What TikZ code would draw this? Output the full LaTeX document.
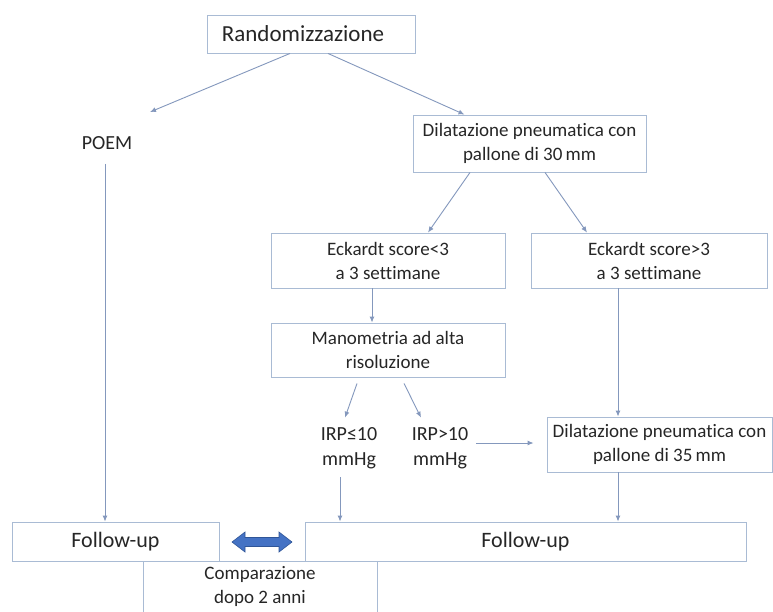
\documentclass[tikz,border=0pt]{standalone}
\usepackage{fontspec}
\setmainfont{Carlito}[Ligatures={NoCommon}]
\usetikzlibrary{arrows.meta}
\definecolor{boxc}{HTML}{A9BBD4}
\definecolor{arrc}{HTML}{8498BD}
\definecolor{txt}{HTML}{262626}
\definecolor{dbl}{HTML}{4472C4}
\definecolor{dbld}{HTML}{2F5597}
\begin{document}
\begin{tikzpicture}[x=1pt,y=-1pt,
  box/.style={draw=boxc,line width=0.9pt,fill=white,inner sep=0pt,align=center,text=txt},
  lbl/.style={inner sep=0pt,align=center,text=txt},
  arr/.style={draw=arrc,line width=0.9pt,-{Latex[length=6pt,width=5pt]}},
  fmid/.style={font=\fontsize{19}{24}\selectfont},
  fbig/.style={font=\fontsize{23}{27}\selectfont},
  ffu/.style={font=\fontsize{22}{26}\selectfont},
]
\fill[white] (0,0) rectangle (773,611);
\useasboundingbox (0,0) rectangle (773,611);

% boxes
\node[box,fbig,minimum width=208pt,minimum height=38pt] (rand) at (311,34) {Randomizzazione\hspace*{16pt}};
\node[lbl,font=\fontsize{20}{24}\selectfont] (poem) at (107,143) {POEM};
\node[box,fmid,minimum width=233pt,minimum height=57pt] (dil30) at (529.5,143.5) {Dilatazione pneumatica con\\pallone di 30\,mm};
\node[box,fmid,minimum width=234pt,minimum height=55pt] (eck1) at (388,260.5) {Eckardt score<3\\a 3 settimane};
\node[box,fmid,minimum width=236pt,minimum height=55pt] (eck2) at (649,260.5) {Eckardt score>3\\a 3 settimane};
\node[box,fmid,minimum width=234pt,minimum height=54pt] (mano) at (388,350) {Manometria ad alta\\risoluzione};
\node[lbl,font=\fontsize{20}{25}\selectfont] (irp1) at (349,448.5) {IRP≤10\\mmHg};
\node[lbl,font=\fontsize{20}{25}\selectfont] (irp2) at (440,448.5) {IRP>10\\mmHg};
\node[box,fmid,minimum width=225pt,minimum height=55pt] (dil35) at (659.5,444.5) {Dilatazione pneumatica con\\pallone di 35\,mm};
\node[box,fmid,minimum width=234pt,minimum height=51pt] (comp) at (260,586.5) {Comparazione\\dopo 2 anni};
\node[box,ffu,minimum width=207pt,minimum height=39pt] (fu1) at (115.5,541.5) {Follow-up};
\node[box,ffu,minimum width=441pt,minimum height=39pt] (fu2) at (525.5,541.5) {Follow-up};

% connectors
\coordinate (pin) at (150,112);
\draw[arr] ([xshift=-21pt]rand.south) -- (pin);
\draw[arr] ([xshift=17pt]rand.south) -- ([xshift=-65pt]dil30.north);
\draw[arr] ([xshift=-2pt,yshift=-14pt]poem.south) -- ([xshift=-10.5pt]fu1.north);
\draw[arr] ([xshift=-59.5pt]dil30.south) -- ([xshift=40pt]eck1.north);
\draw[arr] ([xshift=15.5pt]dil30.south) -- ([xshift=-62pt]eck2.north);
\draw[arr] ([xshift=-16pt]eck1.south) -- ([xshift=-16pt]mano.north);
\draw[arr] ([xshift=-31pt,yshift=-6pt]mano.south) -- ([xshift=-4pt,yshift=10pt]irp1.north);
\draw[arr] ([xshift=16pt,yshift=-6pt]mano.south) -- ([xshift=-19pt,yshift=10pt]irp2.north);
\draw[arr] ([xshift=8pt,yshift=5.5pt]irp2.east) -- ([xshift=-13pt,yshift=1.5pt]dil35.west);
\draw[arr] ([xshift=-31pt]eck2.south) -- ([xshift=-41.5pt]dil35.north);
\draw[arr] ([xshift=-9pt,yshift=-8pt]irp1.south) -- ([xshift=-185.5pt]fu2.north);
\draw[arr] ([xshift=-41.5pt]dil35.south) -- ([xshift=92.5pt]fu2.north);

% double arrow between follow-up boxes
\coordinate (dbc) at (262,542);
\filldraw[fill=dbl,draw=dbld,line width=0.6pt]
  ([xshift=-30pt]dbc) -- ([xshift=-17pt,yshift=10pt]dbc) -- ([xshift=-17pt,yshift=4.5pt]dbc)
  -- ([xshift=17pt,yshift=4.5pt]dbc) -- ([xshift=17pt,yshift=10pt]dbc) -- ([xshift=30pt]dbc)
  -- ([xshift=17pt,yshift=-10pt]dbc) -- ([xshift=17pt,yshift=-4.5pt]dbc)
  -- ([xshift=-17pt,yshift=-4.5pt]dbc) -- ([xshift=-17pt,yshift=-10pt]dbc) -- cycle;
\end{tikzpicture}
\end{document}
